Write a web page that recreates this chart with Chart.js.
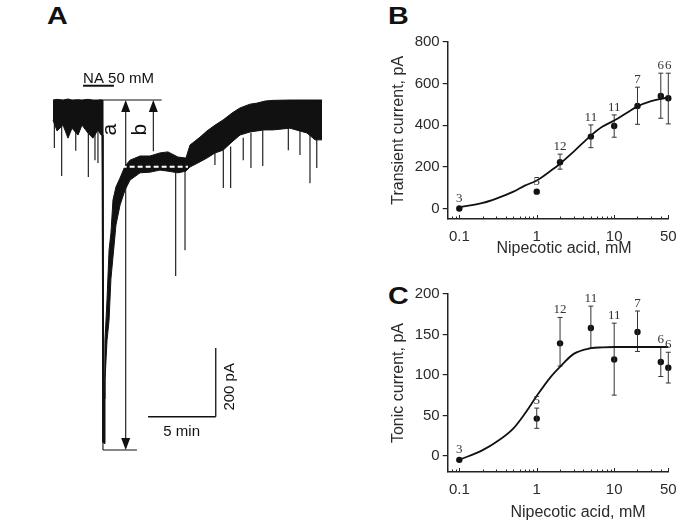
<!DOCTYPE html>
<html>
<head>
<meta charset="utf-8">
<script src="https://cdn.jsdelivr.net/npm/chart.js@4.4.1/dist/chart.umd.min.js"></script>
<style>
  body { margin: 0; background: #fff; }
  #figura { position: relative; width: 698px; height: 521px; overflow: hidden; font-family: 'Liberation Sans', Arial, sans-serif; }
  #figura canvas { position: absolute; }
  .letra { position: absolute; font-size: 23px; font-weight: bold; color: #111; line-height: 26px; transform: scaleX(1.25); transform-origin: left top; }
</style>
</head>
<body>
<div id="figura">
  <div class="letra" style="left:47px; top:3px">A</div>
  <div class="letra" style="left:388px; top:3px">B</div>
  <div class="letra" style="left:388px; top:283px">C</div>
  <canvas id="tracoA" width="370" height="521" style="left:0; top:0"></canvas>
  <canvas id="graficoB" width="328" height="260" style="left:370px; top:0"></canvas>
  <canvas id="graficoC" width="328" height="261" style="left:370px; top:260px"></canvas>
</div>
<script>
// Painel A: registro de corrente (tempo em min, corrente em pA)
const tempo = [0, 0.30, 0.74, 1.11, 1.40, 1.85, 2.14, 2.58, 2.95, 3.32, 3.55, 3.62, 3.69, 3.77, 3.84, 3.99, 4.14, 4.28, 4.43, 4.65, 4.95, 5.32, 5.69, 6.43, 7.16, 7.90, 8.49, 9.23, 9.82, 10.12, 10.86, 11.37, 11.97, 12.56, 13.22, 13.81, 14.55, 15.07, 15.66, 16.25, 17.50, 18.76, 19.35, 19.87];
const topoTraco = [0, 2, 0, 3, 0, 1, 0, 2, 0, 0, 1, 0, 0, -870, -700, -580, -437, -387, -291, -253, -227, -192, -175, -163, -163, -154, -151, -166, -169, -131, -108, -90, -73, -58, -38, -23, -12, -9, -3, -1, 0, 0, 0, 0];
const baseTraco = [-58, -90, -73, -111, -82, -102, -73, -96, -111, -87, -102, -102, -996, -1000, -815, -700, -641, -520, -457, -364, -306, -262, -233, -212, -210, -204, -207, -212, -207, -195, -180, -169, -154, -146, -122, -102, -93, -90, -87, -87, -82, -96, -116, -116];
const picosTempo = [0.10, 0.64, 1.68, 2.61, 3.10, 3.32, 9.06, 9.75, 11.23, 11.96, 12.58, 13.12, 14.05, 14.62, 15.49, 17.38, 18.24, 18.98, 19.48];
const picosInicio = [-60, -60, -60, -60, -60, -60, -210, -200, -160, -150, -146, -135, -110, -95, -90, -82, -85, -95, -110];
const picosFim = [-140, -221, -148, -224, -175, -183, -512, -437, -160, -189, -256, -256, -175, -198, -192, -146, -160, -242, -198];

// Paineis B e C: dose-resposta
const concentracoes = [0.1, 1, 2, 5, 10, 20, 40, 50];
const nCelulas = [3, 5, 12, 11, 11, 7, 6, 6];
const transienteMedia = [0, 81, 222, 345, 396, 492, 540, 529];
const transienteSup = [null, null, 261, 401, 449, 582, 649, 649];
const transienteInf = [null, null, 189, 292, 342, 404, 433, 406];
const tonicaMedia = [-5, 46, 139, 158, 119, 153, 116, 109];
const tonicaSup = [null, 59, 171, 185, 164, 179, 135, 128];
const tonicaInf = [null, 34, 111, 133, 75, 129, 98, 90];

const ajusteConc = [0.1, 0.2, 0.3, 0.5, 0.7, 1, 1.5, 2, 3, 5, 7, 10, 15, 20, 30, 40, 50];
const ajusteTransiente = [6, 27, 48, 81, 110, 135, 180, 215, 273, 350, 392, 422, 462, 490, 515, 526, 532];
const ajusteTonica = [-5, 7, 17, 34, 52, 74, 97, 110, 126, 133, 134, 134.5, 134.5, 134.5, 134.5, 134.5, 134.5];

const ticksX = [0.1, 1, 10, 50];
const ticksMenoresX = [0.08, 0.09, 0.2, 0.3, 0.4, 0.5, 0.6, 0.7, 0.8, 0.9, 2, 3, 4, 5, 6, 7, 8, 9, 20, 30, 40];
const ticksYTransiente = [0, 200, 400, 600, 800];
const ticksYTonica = [0, 50, 100, 150, 200];

const fonte = "'Liberation Sans', Arial, sans-serif";
const corTexto = '#2b2b2b';

const pontos = (xs, ys) => xs.map((x, i) => ({ x: x, y: ys[i] }));

function barrasErro(xs, sup, inf) {
    const dados = [];
    xs.forEach((x, i) => {
        if (sup[i] == null) return;
        dados.push({ x: x, y: inf[i] }, { x: x, y: sup[i] }, { x: x, y: null });
    });
    return dados;
}

const rotulosN = {
    id: 'rotulosN',
    afterDatasetsDraw(chart, args, opts) {
        const { ctx, scales: { x, y } } = chart;
        ctx.save();
        ctx.font = "13px 'Liberation Serif', 'Times New Roman', serif";
        ctx.fillStyle = '#333';
        ctx.textAlign = 'center';
        ctx.textBaseline = 'alphabetic';
        concentracoes.forEach((c, i) => {
            const temBarra = opts.sup[i] != null;
            const topo = temBarra ? opts.sup[i] : opts.media[i];
            const py = y.getPixelForValue(topo) - (temBarra ? 4 : 7);
            ctx.fillText(String(nCelulas[i]), x.getPixelForValue(c), py);
        });
        ctx.restore();
    }
};

// ticks do eixo x voltados para dentro, e titulo do eixo x
const eixoX = {
    id: 'eixoX',
    afterDraw(chart, args, opts) {
        const { ctx, scales: { x }, chartArea } = chart;
        ctx.save();
        ctx.strokeStyle = '#222';
        ctx.lineWidth = 1;
        const marca = (v, tam) => {
            const px = Math.round(x.getPixelForValue(v)) + 0.5;
            ctx.beginPath();
            ctx.moveTo(px, chartArea.bottom);
            ctx.lineTo(px, chartArea.bottom - tam);
            ctx.stroke();
        };
        ticksMenoresX.forEach(v => marca(v, 2.5));
        ticksX.forEach(v => marca(v, 4));

        ctx.font = '16px ' + fonte;
        ctx.fillStyle = corTexto;
        ctx.textAlign = 'center';
        ctx.textBaseline = 'middle';
        ctx.fillText('Nipecotic acid, mM', (chartArea.left + chartArea.right) / 2 + opts.desvio, opts.y);
        ctx.restore();
    }
};

function criarGraficoDose(id, cfg) {
    const ctx = document.getElementById(id).getContext('2d');
    return new Chart(ctx, {
        type: 'scatter',
        data: {
            datasets: [
                {
                    data: pontos(ajusteConc, cfg.ajuste),
                    showLine: true,
                    borderColor: '#111',
                    borderWidth: 1.8,
                    pointRadius: 0,
                    cubicInterpolationMode: 'monotone',
                    clip: false
                },
                {
                    data: barrasErro(concentracoes, cfg.sup, cfg.inf),
                    showLine: true,
                    spanGaps: false,
                    borderColor: '#333',
                    borderWidth: 1,
                    pointStyle: 'line',
                    pointRadius: 2.5,
                    pointBorderColor: '#333',
                    pointBorderWidth: 1,
                    clip: false
                },
                {
                    data: pontos(concentracoes, cfg.media),
                    pointRadius: 3.2,
                    pointBackgroundColor: '#111',
                    pointBorderColor: '#111',
                    pointBorderWidth: 0,
                    clip: false
                }
            ]
        },
        options: {
            responsive: false,
            animation: false,
            events: [],
            layout: { padding: { left: 0, right: 29.7, top: cfg.topo, bottom: 0 } },
            plugins: {
                legend: { display: false },
                tooltip: { enabled: false },
                rotulosN: { media: cfg.media, sup: cfg.sup },
                eixoX: { desvio: cfg.desvioTituloX, y: cfg.yTituloX }
            },
            scales: {
                x: {
                    type: 'logarithmic',
                    min: 0.0708,
                    max: 50,
                    afterBuildTicks: s => { s.ticks = ticksX.map(v => ({ value: v })); },
                    afterFit: s => { s.height = cfg.alturaX; },
                    border: { display: true, color: '#222', width: 1.5 },
                    grid: { display: false, drawTicks: false },
                    ticks: {
                        padding: 9,
                        color: corTexto,
                        autoSkip: false,
                        maxRotation: 0,
                        font: { family: fonte, size: 15 },
                        callback: v => String(v)
                    }
                },
                y: {
                    min: cfg.minY,
                    max: cfg.maxY,
                    afterBuildTicks: s => { s.ticks = cfg.ticksY.map(v => ({ value: v })); },
                    afterFit: s => { s.width = 77.7; },
                    border: { display: true, color: '#222', width: 1.5 },
                    grid: { display: true, drawOnChartArea: false, drawTicks: true, tickLength: 5, color: '#222', lineWidth: 1.2 },
                    ticks: {
                        padding: 3,
                        color: corTexto,
                        font: { family: fonte, size: 15 },
                        callback: v => String(v)
                    },
                    title: {
                        display: true,
                        text: cfg.tituloY,
                        color: corTexto,
                        font: { family: fonte, size: 16, lineHeight: 1 },
                        padding: { top: 21, bottom: 0 }
                    }
                }
            }
        },
        plugins: [rotulosN, eixoX]
    });
}

criarGraficoDose('graficoB', {
    media: transienteMedia, sup: transienteSup, inf: transienteInf, ajuste: ajusteTransiente,
    ticksY: ticksYTransiente, minY: -50, maxY: 800, tituloY: 'Transient current, pA',
    topo: 41.7, alturaX: 41, desvioTituloX: 6, yTituloX: 249
});

criarGraficoDose('graficoC', {
    media: tonicaMedia, sup: tonicaSup, inf: tonicaInf, ajuste: ajusteTonica,
    ticksY: ticksYTonica, minY: -20, maxY: 200, tituloY: 'Tonic current, pA',
    topo: 34, alturaX: 49, desvioTituloX: 20, yTituloX: 253
});

// Anotacoes do painel A, em unidades do grafico (min, pA)
const anotacoesA = {
    id: 'anotacoesA',
    afterDatasetsDraw(chart) {
        const { ctx, scales: { x, y } } = chart;
        const px = t => x.getPixelForValue(t);
        const py = v => y.getPixelForValue(v);
        const linha = (t1, v1, t2, v2) => {
            ctx.beginPath();
            ctx.moveTo(px(t1), py(v1));
            ctx.lineTo(px(t2), py(v2));
            ctx.stroke();
        };
        const ponta = (t, v, dir) => {
            const cx = px(t), cy = py(v);
            ctx.beginPath();
            ctx.moveTo(cx, cy);
            ctx.lineTo(cx - 4.5, cy - dir * 12);
            ctx.lineTo(cx + 4.5, cy - dir * 12);
            ctx.closePath();
            ctx.fill();
        };
        const texto = (s, t, v, tam, rot) => {
            ctx.save();
            ctx.translate(px(t), py(v));
            if (rot) ctx.rotate(-Math.PI / 2);
            ctx.font = tam + 'px ' + fonte;
            ctx.textAlign = 'center';
            ctx.textBaseline = 'middle';
            ctx.fillText(s, 0, 0);
            ctx.restore();
        };

        ctx.save();
        ctx.strokeStyle = '#111';
        ctx.fillStyle = '#111';
        ctx.lineWidth = 1.1;

        // linha de base e medidas a / b
        linha(3.62, 0, 8.03, 0);
        linha(3.69, 0, 3.69, -1019);
        linha(3.69, -1019, 6.2, -1019);
        linha(5.37, -8, 5.37, -1011);
        ponta(5.37, 0, -1);
        ponta(5.37, -1019, 1);
        linha(7.41, -8, 7.41, -149);
        ponta(7.41, 0, -1);
        texto('a', 4.21, -86, 21, true);
        texto('b', 6.43, -86, 21, true);

        // aplicacao do NA
        ctx.lineWidth = 2;
        linha(2.22, 41.6, 4.5, 41.6);
        ctx.font = '15px ' + fonte;
        ctx.textAlign = 'left';
        ctx.textBaseline = 'alphabetic';
        ctx.fillText('NA 50 mM', px(2.22), py(48.6));

        // barras de escala
        ctx.lineWidth = 1.3;
        linha(12.02, -722, 12.02, -922);
        linha(7.02, -922, 12.02, -922);
        texto('5 min', 9.5, -965, 15, false);
        texto('200 pA', 13.07, -835, 15, true);

        // nivel do platô
        ctx.strokeStyle = '#fff';
        ctx.lineWidth = 2;
        ctx.setLineDash([5, 3]);
        linha(5.07, -194, 9.97, -194);
        ctx.restore();
    }
};

const picos = [];
picosTempo.forEach((t, i) => {
    picos.push({ x: t, y: picosInicio[i] }, { x: t, y: picosFim[i] }, { x: t, y: null });
});

new Chart(document.getElementById('tracoA').getContext('2d'), {
    type: 'scatter',
    data: {
        datasets: [
            {
                data: pontos(tempo, topoTraco),
                showLine: true,
                borderColor: '#111',
                borderWidth: 1,
                pointRadius: 0,
                fill: false,
                clip: false
            },
            {
                data: pontos(tempo, baseTraco),
                showLine: true,
                borderColor: '#111',
                borderWidth: 1,
                backgroundColor: '#111',
                pointRadius: 0,
                fill: '-1',
                clip: false
            },
            {
                data: picos,
                showLine: true,
                spanGaps: false,
                borderColor: '#222',
                borderWidth: 1.2,
                pointRadius: 0,
                clip: false
            }
        ]
    },
    options: {
        responsive: false,
        animation: false,
        events: [],
        layout: { padding: { left: 53, right: 46.2, top: 58.8, bottom: 60.3 } },
        plugins: { legend: { display: false }, tooltip: { enabled: false } },
        scales: {
            x: { type: 'linear', min: 0, max: 20, display: false },
            y: { min: -1050, max: 120, display: false }
        }
    },
    plugins: [anotacoesA]
});
</script>
</body>
</html>
